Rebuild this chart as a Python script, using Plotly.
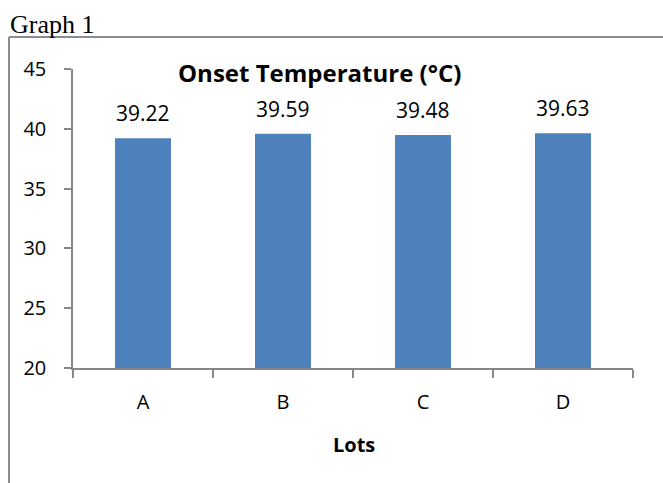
import plotly.graph_objects as go

lots = ["A", "B", "C", "D"]
onset_temp = [39.22, 39.59, 39.48, 39.63]
y_ticks = [20, 25, 30, 35, 40, 45]

W, H = 663, 483
L, R, T, B = 73, 30, 69, 115
pw, ph = W - L - R, H - T - B

def px(x):
    return (x - L) / pw

def py(y):
    return (H - B - y) / ph

axis_col = "#878787"
font_fam = "'Open Sans', sans-serif"

fig = go.Figure(go.Bar(x=lots, y=onset_temp, marker=dict(color="#4F81BD", line=dict(width=0)),
                       hoverinfo="skip"))

annotations = []
for c, v in zip(lots, onset_temp):
    annotations.append(dict(x=c, y=v, xref="x", yref="y", text=f"{v:.2f}", showarrow=False,
                            yanchor="bottom", yshift=9, font=dict(size=21, color="#000", family=font_fam)))

annotations += [
    dict(x=px(319), y=py(72), xref="paper", yref="paper", text="<b>Onset Temperature (°C)</b>",
         showarrow=False, xanchor="center", yanchor="middle", font=dict(size=24, color="#000", family=font_fam)),
    dict(x=px(354), y=py(444), xref="paper", yref="paper", text="<b>Lots</b>",
         showarrow=False, xanchor="center", yanchor="middle", font=dict(size=20, color="#000", family=font_fam)),
    dict(x=px(8), y=py(24), xref="paper", yref="paper", text="Graph 1",
         showarrow=False, xanchor="left", yanchor="middle",
         font=dict(size=26, color="#000", family="'Liberation Serif', 'Times New Roman', serif")),
]

shapes = [
    dict(type="line", xref="paper", yref="paper", x0=px(9), x1=px(W + 5), y0=py(37), y1=py(37),
         line=dict(color="#8c8c8c", width=2)),
    dict(type="line", xref="paper", yref="paper", x0=px(9), x1=px(9), y0=py(37), y1=py(H + 5),
         line=dict(color="#8c8c8c", width=2)),
]

fig.update_layout(
    width=W, height=H,
    margin=dict(l=L, r=R, t=T, b=B),
    paper_bgcolor="white", plot_bgcolor="white",
    bargap=0.6, showlegend=False,
    annotations=annotations, shapes=shapes,
    font=dict(family=font_fam, color="#000"),
)
fig.update_xaxes(showline=True, linecolor=axis_col, linewidth=1.5, ticks="outside", tickson="boundaries",
                 ticklen=8, tickcolor=axis_col, tickwidth=1.5, showgrid=False,
                 tickfont=dict(size=20, color="#000", family=font_fam), ticklabelstandoff=15)
fig.update_yaxes(range=[20, 45], tickvals=y_ticks, showline=True, linecolor=axis_col, linewidth=1.5,
                 ticks="outside", ticklen=7, tickcolor=axis_col, tickwidth=1.5, showgrid=False,
                 zeroline=False, tickfont=dict(size=20, color="#000", family=font_fam), ticklabelstandoff=14)

fig.write_html("out.html", config={"displayModeBar": False},
               post_script="document.body.style.margin='0px';document.body.style.overflow='hidden';")
